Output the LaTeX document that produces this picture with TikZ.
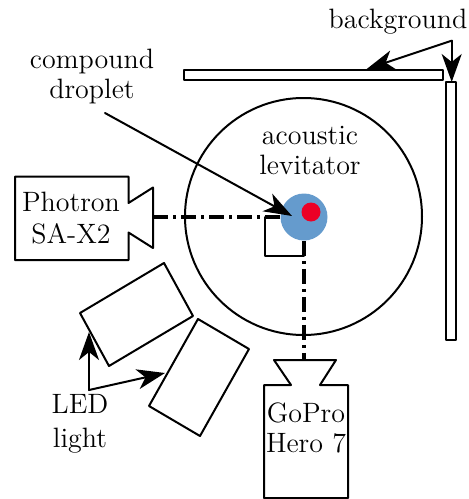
\documentclass[tikz,border=0pt]{standalone}
\usepackage{pgf,tikz}
\usetikzlibrary{arrows.meta}
\tikzset{
  thing/.style={draw,line width=1pt,fill=white},
  label/.style={align=center,font=\fontsize{14}{14}\selectfont},
  sightline/.style={line width=1.7pt,line cap=butt,dash pattern=on 7.5pt off 2.5pt on 1.5pt off 2.5pt},
  pointer/.style={->,line width=1pt}
}
\begin{document}
\begin{tikzpicture}[line cap=round,line join=round,>={Stealth[length=14pt,width=10pt,inset=4pt]},x=0.5pt,y=-0.5pt]
\useasboundingbox (0,0) rectangle (469,499);
% levitator and droplet
\node [circle,draw,line width=1pt,minimum size=118.5pt,inner sep=0pt] (levitator) at (303.5,216.5) {};
\node [circle,fill={rgb,255:red,101;green,155;blue,205},minimum size=23.5pt,inner sep=0pt] (droplet) at (304,217) {};
\node [circle,fill={rgb,255:red,236;green,0;blue,38},minimum size=9.5pt,inner sep=0pt] (core) at (311,212) {};
% background bars
\draw [thing] (184,69.5) rectangle (442.7,79.7);
\draw [thing] (445.7,82) rectangle (455.7,340);
% cameras
\draw [thing] (128.5,203)-- (153,187.5)-- (153,248)-- (128.5,232.5)-- (128.5,260)-- (15,260)-- (15,176.5)-- (128.5,176.5)-- cycle;
\draw [thing] (291,385)-- (274,360)-- (336,360)-- (320,385)-- (348,385)-- (348,498)-- (264,498)-- (264,385)-- cycle;
% lights
\draw [thing] (164,263)-- (193,316)-- (109,366)-- (80,313)-- cycle;
\draw [thing] (198,319)-- (249,349)-- (200,436)-- (149,406)-- cycle;
% sight lines
\coordinate (photronlens) at (153,217);
\coordinate (goprolens) at (304,360);
\coordinate (cornertop) at (265,217);
\coordinate (cornerlow) at (265,256);
\coordinate (cornerright) at (304,256);
\draw [sightline] (photronlens) -- (droplet.west);
\draw [sightline] (droplet.south) -- (goprolens);
\draw [line width=0.8pt] (cornertop) -- (cornerlow) -- (cornerright);
% labels
\node [label] (compoundlabel) at (92,76) {compound\\[1pt]droplet};
\node [label] (levitatorlabel) at (310,150) {acoustic\\[1pt]levitator};
\node [label] (backgroundlabel) at (398,22) {background};
\node [label] (photronlabel) at (71,218) {Photron\\[2pt]SA-X2};
\node [label] (goprolabel) at (306,428) {GoPro\\[1pt]Hero 7};
\node [label] (ledlabel) at (80,424) {LED\\[3pt]light};
% pointers
\coordinate (compoundstart) at (105,113);
\coordinate (droplettip) at (292,216);
\coordinate (backgroundstart) at (451.7,40.7);
\coordinate (bartip) at (366.7,69);
\coordinate (sidetip) at (451.7,82);
\coordinate (ledstart) at (89,390);
\coordinate (lighttip) at (89,332);
\coordinate (lowtip) at (165,373);
\draw [pointer] (compoundstart) -- (droplettip);
\draw [pointer] (backgroundstart) -- (bartip);
\draw [pointer] (backgroundstart) -- (sidetip);
\draw [pointer] (ledstart) -- (lighttip);
\draw [pointer] (ledstart) -- (lowtip);
\end{tikzpicture}
\end{document}
